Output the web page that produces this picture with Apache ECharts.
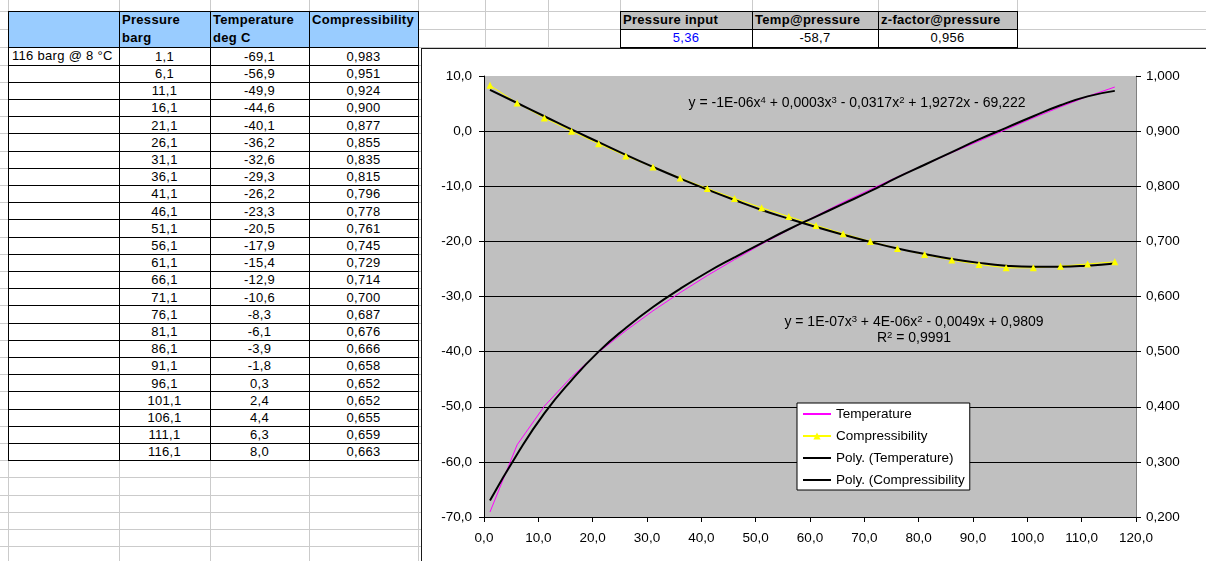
<!DOCTYPE html>
<html>
<head>
<meta charset="utf-8">
<title>Pressure / Temperature / Compressibility</title>
<script src="https://cdn.jsdelivr.net/npm/echarts@6/dist/echarts.min.js"></script>
<style>
  html, body { margin: 0; padding: 0; }
  body {
    position: relative; width: 1206px; height: 561px; overflow: hidden; background: #fff;
    font-family: "Liberation Sans", Arial, sans-serif; font-size: 13px; color: #000;
  }
  #sheet { position: absolute; left: 0; top: 0; width: 1206px; height: 561px; }
  #frame { position: absolute; left: 421px; top: 48px; width: 800px; height: 530px; border: 1px solid #1a1a1a; background: #fff; }
  #chart { width: 800px; height: 530px; }
  .t { position: absolute; white-space: nowrap; letter-spacing: 0.3px; }
</style>
</head>
<body>
<div id="sheet"></div>
<div id="frame"><div id="chart"></div></div>
<script>
// values read from the sheet
var pressure = [1.1, 6.1, 11.1, 16.1, 21.1, 26.1, 31.1, 36.1, 41.1, 46.1, 51.1, 56.1,
                61.1, 66.1, 71.1, 76.1, 81.1, 86.1, 91.1, 96.1, 101.1, 106.1, 111.1, 116.1];
var temperature = [-69.1, -56.9, -49.9, -44.6, -40.1, -36.2, -32.6, -29.3, -26.2, -23.3, -20.5, -17.9,
                   -15.4, -12.9, -10.6, -8.3, -6.1, -3.9, -1.8, 0.3, 2.4, 4.4, 6.3, 8.0];
var compressibility = [0.983, 0.951, 0.924, 0.900, 0.877, 0.855, 0.835, 0.815, 0.796, 0.778, 0.761, 0.745,
                       0.729, 0.714, 0.700, 0.687, 0.676, 0.666, 0.658, 0.652, 0.652, 0.655, 0.659, 0.663];
// trend lines as they appear on the chart (read at the same pressures)
var tempTrend = [-67.0, -58.6, -51.2, -45.2, -40.0, -35.7, -31.9, -28.6, -25.6, -22.9, -20.3, -17.8,
                 -15.5, -13.2, -10.9, -8.4, -6.1, -3.8, -1.5, 0.6, 2.7, 4.7, 6.3, 7.3];
var compTrend = [0.975, 0.951, 0.927, 0.903, 0.880, 0.857, 0.835, 0.814, 0.794, 0.775, 0.757, 0.741,
                 0.726, 0.712, 0.699, 0.687, 0.677, 0.668, 0.661, 0.656, 0.654, 0.654, 0.656, 0.660];

var seriesNames = ['Temperature', 'Compressibility', 'Poly. (Temperature)', 'Poly. (Compressibility)'];
var headTop = ['Pressure', 'Temperature', 'Compressibility'];
var headSub = ['barg', 'deg C', ''];
var caseLabel = '116 barg @ 8 °C';
var inputHead = ['Pressure input', 'Temp@pressure', 'z-factor@pressure'];
var inputVals = ['5,36', '-58,7', '0,956'];
var eqTemp = ['y = -1E-06x', '4', ' + 0,0003x', '3', ' - 0,0317x', '2', ' + 1,9272x - 69,222'];
var eqComp = ['y = 1E-07x', '3', ' + 4E-06x', '2', ' - 0,0049x + 0,9809'];
var rSquared = '0,9991';

function dec(n) {
  return function (v) { return Number(v).toFixed(n).replace('.', ','); };
}

// ---------- spreadsheet part ----------
var sheet = document.getElementById('sheet');
function box(x, y, w, h, css, text) {
  var d = document.createElement('div');
  d.style.cssText = 'position:absolute;left:' + x + 'px;top:' + y + 'px;width:' + w + 'px;height:' + h + 'px;' + (css || '');
  if (text !== undefined) {
    d.className = 't';
    d.textContent = text;
  }
  sheet.appendChild(d);
  return d;
}

var colX = [8, 119, 210, 309, 418];
var gridCols = [8, 119, 210, 309, 418, 485, 548, 620, 752, 878, 1017];
var rowH = 17.2;
var dataTop = 47.3;
var gridRows = [11, 29];
for (var y = dataTop; y < 561; y += rowH) gridRows.push(y);

// light sheet gridlines
gridCols.forEach(function (x) { box(x, 0, 1, 561, 'background:#cbcbcb'); });
gridRows.forEach(function (y) { box(0, y, 1206, 1, 'background:#cbcbcb'); });

// left table
var tableBottom = dataTop + pressure.length * rowH;
box(8, 11, 410, dataTop - 11, 'background:#99ccff');
box(8, 11, 411, 1, 'background:#000');
box(8, dataTop, 411, 1, 'background:#000');
pressure.forEach(function (p, i) {
  box(8, dataTop + (i + 1) * rowH, 411, 1, 'background:#000');
});
colX.forEach(function (x) { box(x, 11, 1, tableBottom - 11 + 1, 'background:#000'); });

for (var c = 0; c < 3; c++) {
  var cx = colX[c + 1];
  box(cx + 3, 11, colX[c + 2] - cx - 3, 18, 'line-height:18px;font-weight:bold;', headTop[c]);
  box(cx + 3, 29, colX[c + 2] - cx - 3, 18, 'line-height:18px;font-weight:bold;', headSub[c]);
}
box(12, dataTop, 106, rowH, 'line-height:' + rowH + 'px;', caseLabel);
pressure.forEach(function (p, i) {
  var ty = dataTop + i * rowH + 0.5;
  var cells = [dec(1)(p), dec(1)(temperature[i]), dec(3)(compressibility[i])];
  for (var c = 0; c < 3; c++) {
    box(colX[c + 1], ty, colX[c + 2] - colX[c + 1], rowH, 'line-height:' + rowH + 'px;text-align:center;', cells[c]);
  }
});

// input table top right
var inX = [620, 752, 878, 1017];
box(620, 11, 397, 18, 'background:#c0c0c0');
box(620, 29, 397, 18, 'background:#fff');
[11, 29, 47].forEach(function (y) { box(620, y, 398, 1, 'background:#000'); });
inX.forEach(function (x) { box(x, 11, 1, 37, 'background:#000'); });
for (var k = 0; k < 3; k++) {
  box(inX[k] + 3, 11, inX[k + 1] - inX[k] - 3, 18, 'line-height:18px;font-weight:bold;', inputHead[k]);
  box(inX[k], 29, inX[k + 1] - inX[k], 18, 'line-height:18px;text-align:center;' + (k === 0 ? 'color:#0000ff;' : ''), inputVals[k]);
}

// ---------- chart ----------
var FONT = '"Liberation Sans", Arial, sans-serif';
var FS = 13.5;
function pairs(xs, ys) {
  return xs.map(function (x, i) { return [x, ys[i]]; });
}
function richEq(parts) {
  var s = '';
  parts.forEach(function (p, i) { s += (i % 2 ? '{s|' : '{n|') + p + '}'; });
  return s;
}
var eqRich = {
  n: { font: '14px "Liberation Sans", Arial, sans-serif', lineHeight: 16, fill: '#000' },
  s: { font: '9.5px "Liberation Sans", Arial, sans-serif', lineHeight: 6, verticalAlign: 'top', fill: '#000' }
};
// line-only legend icons: hide the marker the line series puts in its legend icon
var noMarker = { color: 'rgba(0,0,0,0)', borderColor: 'rgba(0,0,0,0)', borderWidth: 0 };

var chart = echarts.init(document.getElementById('chart'));
var option = {
  animation: false,
  backgroundColor: '#fff',
  textStyle: { fontFamily: FONT, fontSize: FS, color: '#000' },
  grid: {
    left: 62, top: 27, width: 652, height: 441,
    show: true, backgroundColor: '#c0c0c0', borderWidth: 0
  },
  legend: {
    orient: 'vertical',
    left: 375, top: 354,
    backgroundColor: '#fff', borderColor: '#000', borderWidth: 1, borderRadius: 0,
    padding: [4, 5, 3, 5],
    itemGap: 8, itemWidth: 28, itemHeight: 9,
    selectedMode: false,
    textStyle: { fontFamily: FONT, fontSize: FS, color: '#000', width: 131, overflow: 'truncate', ellipsis: '' },
    data: [
      { name: seriesNames[0], itemStyle: noMarker },
      { name: seriesNames[1] },
      { name: seriesNames[2], itemStyle: noMarker },
      { name: seriesNames[3], itemStyle: noMarker }
    ]
  },
  xAxis: {
    type: 'value', min: 0, max: 120, interval: 10,
    axisLine: { show: true, onZero: false, lineStyle: { color: '#000', width: 1 } },
    axisTick: { show: true, length: 5, lineStyle: { color: '#000' } },
    axisLabel: { margin: 14, formatter: dec(1), color: '#000', fontSize: FS, fontFamily: FONT, showMinLabel: true, showMaxLabel: true },
    splitLine: { show: false }
  },
  yAxis: [{
    type: 'value', min: -70, max: 10, interval: 10, position: 'left',
    axisLine: { show: true, onZero: false, lineStyle: { color: '#000', width: 1 } },
    axisTick: { show: true, length: 5, lineStyle: { color: '#000' } },
    axisLabel: { margin: 12, formatter: dec(1), color: '#000', fontSize: FS, fontFamily: FONT, showMinLabel: true, showMaxLabel: true },
    splitLine: { show: true, showMaxLine: false, lineStyle: { color: '#000', width: 1 } }
  }, {
    type: 'value', min: 0.2, max: 1.0, interval: 0.1, position: 'right',
    axisLine: { show: true, onZero: false, lineStyle: { color: '#808080', width: 1 } },
    axisTick: { show: true, length: 5, lineStyle: { color: '#000' } },
    axisLabel: { margin: 10, formatter: dec(3), color: '#000', fontSize: FS, fontFamily: FONT, showMinLabel: true, showMaxLabel: true },
    splitLine: { show: false }
  }],
  series: [{
    name: seriesNames[0], type: 'line', yAxisIndex: 0,
    data: pairs(pressure, temperature),
    symbol: 'none', color: '#ff00ff',
    lineStyle: { color: '#ff00ff', width: 1 }
  }, {
    name: seriesNames[1], type: 'line', yAxisIndex: 1,
    data: pairs(pressure, compressibility),
    symbol: 'triangle', symbolSize: 7, color: '#ffff00',
    itemStyle: { color: '#ffff00' },
    lineStyle: { color: '#ffff00', width: 1 }
  }, {
    name: seriesNames[2], type: 'line', yAxisIndex: 0,
    data: pairs(pressure, tempTrend),
    symbol: 'none', smooth: true, color: '#000',
    lineStyle: { color: '#000', width: 2 }
  }, {
    name: seriesNames[3], type: 'line', yAxisIndex: 1,
    data: pairs(pressure, compTrend),
    symbol: 'none', smooth: true, color: '#000',
    lineStyle: { color: '#000', width: 2 }
  }],
  graphic: [{
    type: 'text', x: 435, y: 54,
    style: {
      text: richEq(eqTemp),
      align: 'center', verticalAlign: 'middle',
      textAlign: 'center', textVerticalAlign: 'middle',
      fill: '#000', rich: eqRich
    }
  }, {
    type: 'text', x: 492, y: 281,
    style: {
      text: richEq(eqComp) + '\n{n|R}{s|2}{n| = ' + rSquared + '}',
      align: 'center', verticalAlign: 'middle',
      textAlign: 'center', textVerticalAlign: 'middle',
      fill: '#000', rich: eqRich
    }
  }]
};
chart.setOption(option);
</script>
</body>
</html>
